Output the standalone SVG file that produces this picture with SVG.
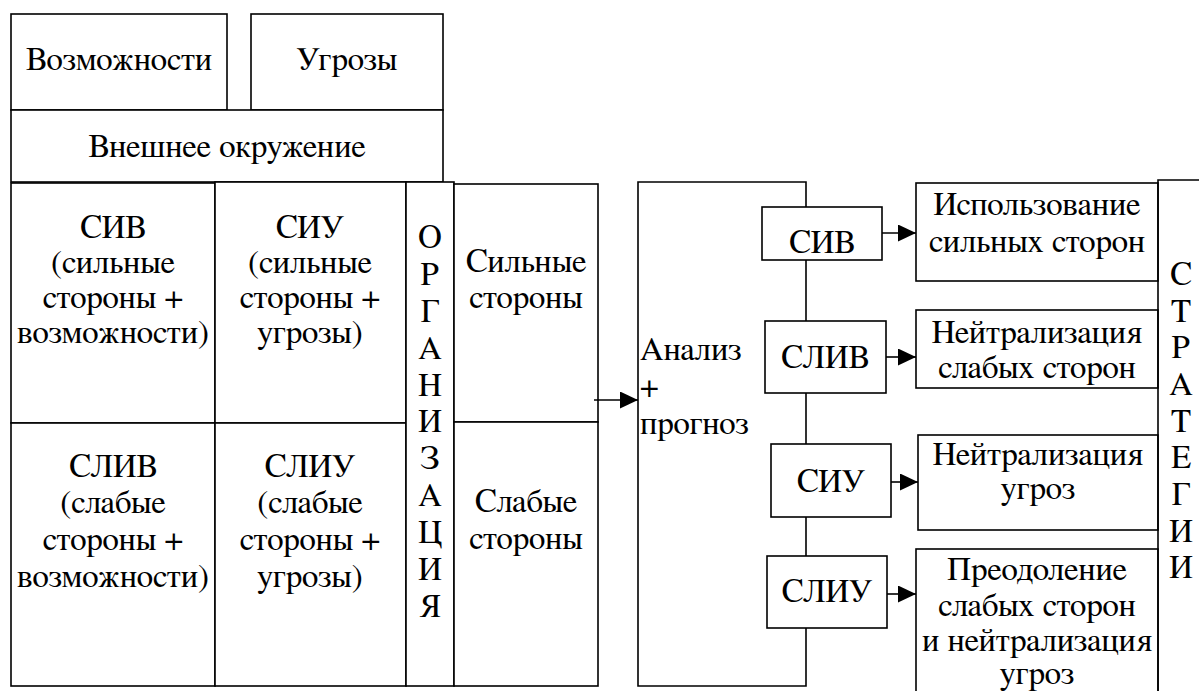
<svg xmlns="http://www.w3.org/2000/svg" width="1199" height="691" viewBox="0 0 1199 691">
<defs>
<marker id="ah" markerUnits="userSpaceOnUse" markerWidth="18" markerHeight="18" refX="18" refY="8.5" orient="auto">
<path d="M0,0 L18,8.5 L0,17 z" fill="#000"/>
</marker>
</defs>
<rect width="1199" height="691" fill="#fff"/>

<g id="opportunities"><rect fill="#fff" stroke="#000" stroke-width="1.6" x="11" y="14" width="216" height="96"/><text font-family="FreeSerif, Noto Serif, serif" font-size="33" text-anchor="middle" x="119" y="70">Возможности</text></g>
<g id="threats"><rect fill="#fff" stroke="#000" stroke-width="1.6" x="251" y="14" width="192" height="96"/><text font-family="FreeSerif, Noto Serif, serif" font-size="33" text-anchor="middle" x="347" y="70">Угрозы</text></g>
<g id="environment"><rect fill="#fff" stroke="#000" stroke-width="1.6" x="11" y="110" width="432" height="72"/><text font-family="FreeSerif, Noto Serif, serif" font-size="33" text-anchor="middle" x="227" y="157">Внешнее окружение</text></g>

<g id="siv"><rect fill="#fff" stroke="#000" stroke-width="1.6" x="11" y="183" width="204" height="240"/>
<text font-family="FreeSerif, Noto Serif, serif" font-size="33" text-anchor="middle"><tspan x="113" y="238">СИВ</tspan><tspan x="113" y="273">(сильные</tspan><tspan x="113" y="308">стороны +</tspan><tspan x="113" y="343">возможности)</tspan></text></g>
<g id="siu"><rect fill="#fff" stroke="#000" stroke-width="1.6" x="215" y="182" width="191" height="241"/>
<text font-family="FreeSerif, Noto Serif, serif" font-size="33" text-anchor="middle"><tspan x="310" y="238">СИУ</tspan><tspan x="310" y="273">(сильные</tspan><tspan x="310" y="308">стороны +</tspan><tspan x="310" y="343">угрозы)</tspan></text></g>
<g id="sliv"><rect fill="#fff" stroke="#000" stroke-width="1.6" x="11" y="423" width="204" height="263"/>
<text font-family="FreeSerif, Noto Serif, serif" font-size="33" text-anchor="middle"><tspan x="113" y="477">СЛИВ</tspan><tspan x="113" y="513">(слабые</tspan><tspan x="113" y="550">стороны +</tspan><tspan x="113" y="587">возможности)</tspan></text></g>
<g id="sliu"><rect fill="#fff" stroke="#000" stroke-width="1.6" x="215" y="423" width="191" height="263"/>
<text font-family="FreeSerif, Noto Serif, serif" font-size="33" text-anchor="middle"><tspan x="310" y="477">СЛИУ</tspan><tspan x="310" y="513">(слабые</tspan><tspan x="310" y="550">стороны +</tspan><tspan x="310" y="587">угрозы)</tspan></text></g>

<g id="organization"><rect fill="#fff" stroke="#000" stroke-width="1.6" x="406" y="182" width="48" height="504"/>
<text font-family="FreeSerif, Noto Serif, serif" font-size="33" text-anchor="middle"><tspan x="430" y="248">О</tspan><tspan x="430" y="285">Р</tspan><tspan x="430" y="322">Г</tspan><tspan x="430" y="359">А</tspan><tspan x="430" y="396">Н</tspan><tspan x="430" y="432">И</tspan><tspan x="430" y="469">З</tspan><tspan x="430" y="506">А</tspan><tspan x="430" y="543">Ц</tspan><tspan x="430" y="580">И</tspan><tspan x="430" y="617">Я</tspan></text></g>

<g id="strengths"><rect fill="#fff" stroke="#000" stroke-width="1.6" x="454" y="184" width="144" height="238"/>
<text font-family="FreeSerif, Noto Serif, serif" font-size="33" text-anchor="middle"><tspan x="526" y="272">Сильные</tspan><tspan x="526" y="308">стороны</tspan></text></g>
<g id="weaknesses"><rect fill="#fff" stroke="#000" stroke-width="1.6" x="454" y="422" width="144" height="264"/>
<text font-family="FreeSerif, Noto Serif, serif" font-size="33" text-anchor="middle"><tspan x="526" y="512">Слабые</tspan><tspan x="526" y="549">стороны</tspan></text></g>

<g id="analysis"><path fill="none" stroke="#000" stroke-width="1.6" d="M806,207 V182 H638 V686 H806 V628 M806,260 V321 M806,393 V444 M806,517 V556"/>
<text font-family="FreeSerif, Noto Serif, serif" font-size="33"><tspan x="640" y="360">Анализ</tspan><tspan x="640" y="397">+</tspan><tspan x="640" y="434">прогноз</tspan></text></g>

<g id="s-siv"><rect fill="#fff" stroke="#000" stroke-width="1.6" x="762" y="207" width="120" height="53"/><text font-family="FreeSerif, Noto Serif, serif" font-size="33" text-anchor="middle" x="822" y="253">СИВ</text></g>
<g id="s-sliv"><rect fill="#fff" stroke="#000" stroke-width="1.6" x="765" y="321" width="121" height="72"/><text font-family="FreeSerif, Noto Serif, serif" font-size="33" text-anchor="middle" x="825" y="368">СЛИВ</text></g>
<g id="s-siu"><rect fill="#fff" stroke="#000" stroke-width="1.6" x="771" y="444" width="120" height="73"/><text font-family="FreeSerif, Noto Serif, serif" font-size="33" text-anchor="middle" x="831" y="492">СИУ</text></g>
<g id="s-sliu"><rect fill="#fff" stroke="#000" stroke-width="1.6" x="767" y="556" width="120" height="72"/><text font-family="FreeSerif, Noto Serif, serif" font-size="33" text-anchor="middle" x="827" y="602">СЛИУ</text></g>

<g id="use-strengths"><rect fill="#fff" stroke="#000" stroke-width="1.6" x="916" y="183" width="242" height="98"/>
<text font-family="FreeSerif, Noto Serif, serif" font-size="33" text-anchor="middle"><tspan x="1037" y="215">Использование</tspan><tspan x="1037" y="252">сильных сторон</tspan></text></g>
<g id="neutralize-weak"><rect fill="#fff" stroke="#000" stroke-width="1.6" x="916" y="310" width="242" height="78"/>
<text font-family="FreeSerif, Noto Serif, serif" font-size="33" text-anchor="middle"><tspan x="1037" y="343">Нейтрализация</tspan><tspan x="1037" y="378">слабых сторон</tspan></text></g>
<g id="neutralize-threats"><rect fill="#fff" stroke="#000" stroke-width="1.6" x="918" y="435" width="240" height="95"/>
<text font-family="FreeSerif, Noto Serif, serif" font-size="33" text-anchor="middle"><tspan x="1038" y="465">Нейтрализация</tspan><tspan x="1038" y="499">угроз</tspan></text></g>
<g id="overcome"><rect fill="#fff" stroke="#000" stroke-width="1.6" x="916" y="549" width="242" height="160"/>
<text font-family="FreeSerif, Noto Serif, serif" font-size="33" text-anchor="middle"><tspan x="1037" y="580">Преодоление</tspan><tspan x="1037" y="616">слабых сторон</tspan><tspan x="1037" y="651">и нейтрализация</tspan><tspan x="1037" y="684">угроз</tspan></text></g>

<g id="strategies"><path fill="none" stroke="#000" stroke-width="1.6" d="M1205,180 H1158 V700"/>
<text font-family="FreeSerif, Noto Serif, serif" font-size="33" text-anchor="middle"><tspan x="1181" y="285">С</tspan><tspan x="1181" y="322">Т</tspan><tspan x="1181" y="358">Р</tspan><tspan x="1181" y="395">А</tspan><tspan x="1181" y="432">Т</tspan><tspan x="1181" y="468">Е</tspan><tspan x="1181" y="505">Г</tspan><tspan x="1181" y="542">И</tspan><tspan x="1181" y="578">И</tspan></text></g>

<g id="connectors" fill="none" stroke="#000" stroke-width="1.6">
<line x1="594" y1="400" x2="638" y2="400" marker-end="url(#ah)"/>
<line x1="882" y1="233" x2="916" y2="233" marker-end="url(#ah)"/>
<line x1="886" y1="357" x2="916" y2="357" marker-end="url(#ah)"/>
<line x1="891" y1="482" x2="918" y2="482" marker-end="url(#ah)"/>
<line x1="887" y1="594" x2="916" y2="594" marker-end="url(#ah)"/>
</g>
</svg>
